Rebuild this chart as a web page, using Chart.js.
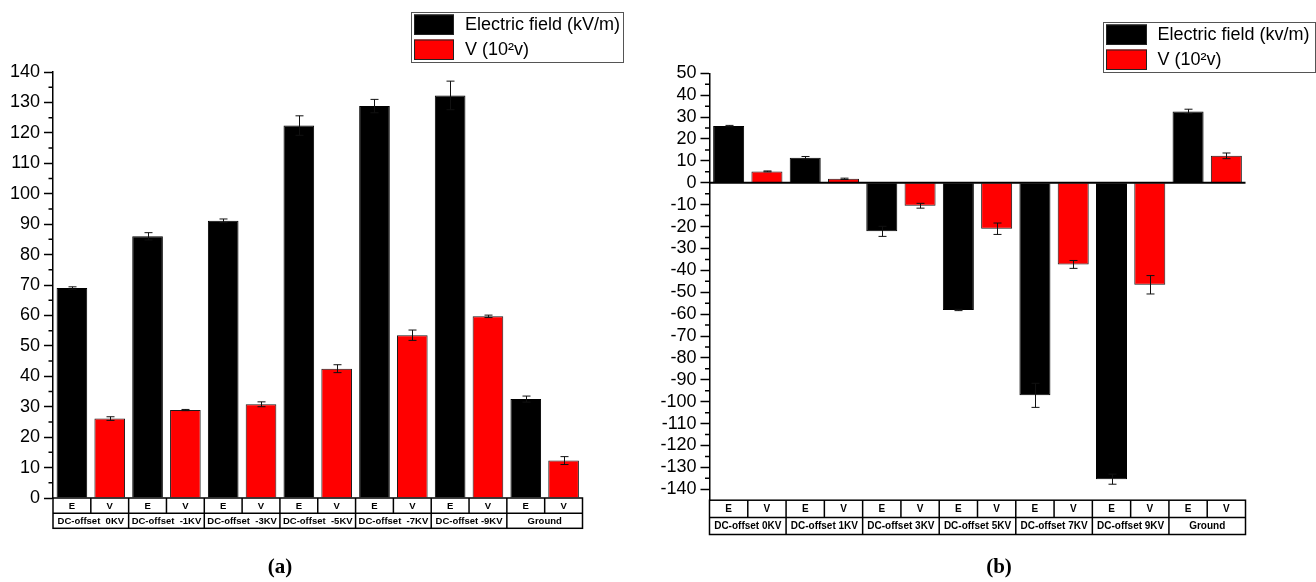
<!DOCTYPE html>
<html>
<head>
<meta charset="utf-8">
<script src="https://cdn.jsdelivr.net/npm/chart.js@4.4.1/dist/chart.umd.min.js"></script>
<style>
  body { margin: 0; background: #fff; }
  #wrap { position: relative; width: 1316px; height: 582px; overflow: hidden; }
  canvas { position: absolute; top: 0; }
  .tag { position: absolute; top: 566px; transform: translate(-50%, -50%); font: bold 21px "Liberation Serif", serif; }
</style>
</head>
<body>
<div id="wrap">
  <canvas id="chartA" width="658" height="582" style="left:0"></canvas>
  <canvas id="chartB" width="658" height="582" style="left:658px"></canvas>
  <div class="tag" style="left:280px">(a)</div>
  <div class="tag" style="left:999px">(b)</div>
</div>
<script>
// waarden
var subLabels = ['E', 'V'];

// paneel (a)
var groupsA = ['DC-offset  0KV', 'DC-offset  -1KV', 'DC-offset  -3KV', 'DC-offset  -5KV', 'DC-offset  -7KV', 'DC-offset -9KV', 'Ground'];
var fieldA = [69.0, 86.0, 91.1, 122.4, 128.8, 132.3, 32.5];
var fieldErrA = [0.4, 1.2, 0.6, 3.2, 2.2, 4.7, 1.0];
var voltA = [26.1, 28.9, 30.8, 42.5, 53.5, 59.7, 12.3];
var voltErrA = [0.6, 0.2, 0.8, 1.3, 1.7, 0.4, 1.3];
var ticksA = [0, 10, 20, 30, 40, 50, 60, 70, 80, 90, 100, 110, 120, 130, 140];

// paneel (b)
var groupsB = ['DC-offset 0KV', 'DC-offset 1KV', 'DC-offset 3KV', 'DC-offset 5KV', 'DC-offset 7KV', 'DC-offset 9KV', 'Ground'];
var fieldB = [25.9, 11.4, -22.2, -58.1, -97.1, -135.4, 32.6];
var fieldErrB = [0.3, 0.6, 2.3, 0.3, 5.5, 2.3, 1.0];
var voltB = [5.2, 1.8, -10.5, -21.0, -37.3, -46.6, 12.3];
var voltErrB = [0.2, 0.3, 1.1, 2.6, 1.8, 4.2, 1.3];
var ticksB = [50, 40, 30, 20, 10, 0, -10, -20, -30, -40, -50, -60, -70, -80, -90, -100, -110, -120, -130, -140];

// E op de even plekken, V op de oneven plekken
function spread(values, slot) {
  var out = [];
  values.forEach(function (v) {
    if (slot === 0) out.push(v, null); else out.push(null, v);
  });
  return out;
}

function repeatLabels(n) {
  var out = [];
  for (var i = 0; i < n; i++) out.push(subLabels[0], subLabels[1]);
  return out;
}

Chart.defaults.font.family = '"Liberation Sans", Arial, sans-serif';
Chart.defaults.font.size = 18;
Chart.defaults.color = '#000';

// foutbalken
var errorBars = {
  id: 'errorBars',
  afterDatasetsDraw: function (chart) {
    var ctx = chart.ctx, y = chart.scales.y;
    ctx.save();
    ctx.strokeStyle = '#111';
    ctx.lineWidth = 1;
    chart.data.datasets.forEach(function (ds, di) {
      var meta = chart.getDatasetMeta(di);
      meta.data.forEach(function (bar, i) {
        var v = ds.data[i];
        if (v === null) return;
        var e = ds.errors[i];
        var top = y.getPixelForValue(v + e), bot = y.getPixelForValue(v - e);
        var x = Math.round(bar.x) + 0.5;
        ctx.beginPath();
        ctx.moveTo(x, top); ctx.lineTo(x, bot);
        ctx.moveTo(x - 4, top); ctx.lineTo(x + 4, top);
        ctx.moveTo(x - 4, bot); ctx.lineTo(x + 4, bot);
        ctx.stroke();
      });
    });
    // nullijn
    if (chart.options.plugins.errorBars.zeroLine) {
      var z = y.getPixelForValue(0);
      ctx.strokeStyle = '#000';
      ctx.lineWidth = 2;
      ctx.beginPath();
      ctx.moveTo(chart.chartArea.left, z);
      ctx.lineTo(chart.chartArea.right, z);
      ctx.stroke();
    }
    ctx.restore();
  }
};

// kleine streepjes tussen de grote ticks
var minorTicks = {
  id: 'minorTicks',
  afterDraw: function (chart) {
    var ctx = chart.ctx, y = chart.scales.y, left = chart.chartArea.left;
    var t = y.ticks.map(function (k) { return k.value; }).sort(function (a, b) { return a - b; });
    ctx.save();
    ctx.strokeStyle = '#000';
    ctx.lineWidth = 1.5;
    ctx.beginPath();
    for (var i = 0; i < t.length - 1; i++) {
      var py = y.getPixelForValue((t[i] + t[i + 1]) / 2);
      ctx.moveTo(left - 4.5, py); ctx.lineTo(left, py);
    }
    ctx.stroke();
    ctx.restore();
  }
};

// tabel met E / V en groepsnamen onder de balken
var catTable = {
  id: 'catTable',
  afterDraw: function (chart, args, opts) {
    var ctx = chart.ctx, x = chart.scales.x, area = chart.chartArea;
    var n = chart.data.labels.length;
    var w = (area.right - area.left) / n;
    var y0 = area.bottom, y1 = y0 + opts.rowH[0], y2 = y1 + opts.rowH[1];
    ctx.save();
    ctx.strokeStyle = '#000';
    ctx.lineWidth = 1.5;
    ctx.strokeRect(area.left, y0, area.right - area.left, y2 - y0);
    ctx.beginPath();
    ctx.moveTo(area.left, y1); ctx.lineTo(area.right, y1);
    for (var i = 1; i < n; i++) {
      var xe = x.getPixelForValue(i) - w / 2;
      ctx.moveTo(xe, y0);
      ctx.lineTo(xe, i % 2 === 0 ? y2 : y1);
    }
    ctx.stroke();
    ctx.fillStyle = '#000';
    ctx.textAlign = 'center';
    ctx.textBaseline = 'middle';
    ctx.font = 'bold ' + opts.size + 'px "Liberation Sans", Arial, sans-serif';
    chart.data.labels.forEach(function (l, i) {
      ctx.fillText(l, x.getPixelForValue(i), (y0 + y1) / 2 + 0.5);
    });
    opts.groups.forEach(function (g, k) {
      var cx = (x.getPixelForValue(2 * k) + x.getPixelForValue(2 * k + 1)) / 2;
      ctx.fillText(g, cx, (y1 + y2) / 2 + 0.5);
    });
    ctx.restore();
  }
};

// legenda in een kader
var boxLegend = {
  id: 'boxLegend',
  afterDraw: function (chart, args, o) {
    var ctx = chart.ctx;
    var rh = o.h / chart.data.datasets.length;
    ctx.save();
    ctx.strokeStyle = '#555';
    ctx.lineWidth = 1;
    ctx.strokeRect(o.x + 0.5, o.y + 0.5, o.w, o.h);
    ctx.font = '18px "Liberation Sans", Arial, sans-serif';
    ctx.textBaseline = 'middle';
    ctx.textAlign = 'left';
    chart.data.datasets.forEach(function (ds, i) {
      var ry = o.y + i * rh;
      ctx.fillStyle = ds.backgroundColor;
      ctx.fillRect(o.x + 3, ry + 2.5, o.sw, rh - 4.5);
      ctx.strokeStyle = '#222';
      ctx.strokeRect(o.x + 3.5, ry + 3, o.sw - 1, rh - 5.5);
      ctx.fillStyle = '#000';
      ctx.fillText(ds.label, o.x + o.tx, ry + rh / 2 + 1);
    });
    ctx.restore();
  }
};

function makeChart(id, cfg) {
  var ctx = document.getElementById(id).getContext('2d');
  return new Chart(ctx, {
    type: 'bar',
    data: {
      labels: repeatLabels(cfg.groups.length),
      datasets: [{
        label: cfg.fieldLabel,
        data: spread(cfg.field, 0),
        errors: spread(cfg.fieldErr, 0),
        backgroundColor: '#000000',
        borderColor: '#000000',
        borderWidth: 1
      }, {
        label: 'V (10²v)',
        data: spread(cfg.volt, 1),
        errors: spread(cfg.voltErr, 1),
        backgroundColor: '#ff0000',
        borderColor: '#1a1a1a',
        borderWidth: 1
      }]
    },
    options: {
      responsive: false,
      animation: false,
      events: [],
      layout: { padding: cfg.padding },
      datasets: { bar: { skipNull: true, barPercentage: 0.81, categoryPercentage: 1 } },
      scales: {
        x: { display: false },
        y: {
          min: cfg.min,
          max: cfg.max,
          afterBuildTicks: function (s) { s.ticks = cfg.ticks.map(function (v) { return { value: v }; }); },
          afterFit: function (s) { s.width = cfg.axisWidth; },
          ticks: { padding: 4, autoSkip: false },
          grid: { drawOnChartArea: false, tickLength: 9, tickColor: '#000', tickWidth: 1.5 },
          border: { display: true, color: '#000', width: 1.5 }
        }
      },
      plugins: {
        legend: { display: false },
        tooltip: { enabled: false },
        errorBars: { zeroLine: cfg.zeroLine },
        catTable: { groups: cfg.groups, rowH: cfg.rowH, size: cfg.tableFont },
        boxLegend: cfg.legendBox
      }
    },
    plugins: [errorBars, minorTicks, catTable, boxLegend]
  });
}

var chartA = makeChart('chartA', {
  groups: groupsA, field: fieldA, fieldErr: fieldErrA, volt: voltA, voltErr: voltErrA,
  fieldLabel: 'Electric field (kV/m)',
  ticks: ticksA, min: 0, max: 140,
  padding: { left: 0, right: 75.5, top: 72, bottom: 84 },
  axisWidth: 53,
  zeroLine: false,
  rowH: [15.3, 15], tableFont: 9.5,
  legendBox: { x: 411, y: 12, w: 212, h: 50, sw: 40, tx: 54 }
});

var chartB = makeChart('chartB', {
  groups: groupsB, field: fieldB, fieldErr: fieldErrB, volt: voltB, voltErr: voltErrB,
  fieldLabel: 'Electric field (kv/m)',
  ticks: ticksB, min: -145, max: 50,
  padding: { left: 0, right: 70.5, top: 73.3, bottom: 81.8 },
  axisWidth: 51.5,
  zeroLine: true,
  rowH: [17.3, 17], tableFont: 10,
  legendBox: { x: 445, y: 22, w: 212, h: 50, sw: 41, tx: 54.5 }
});
</script>
</body>
</html>
